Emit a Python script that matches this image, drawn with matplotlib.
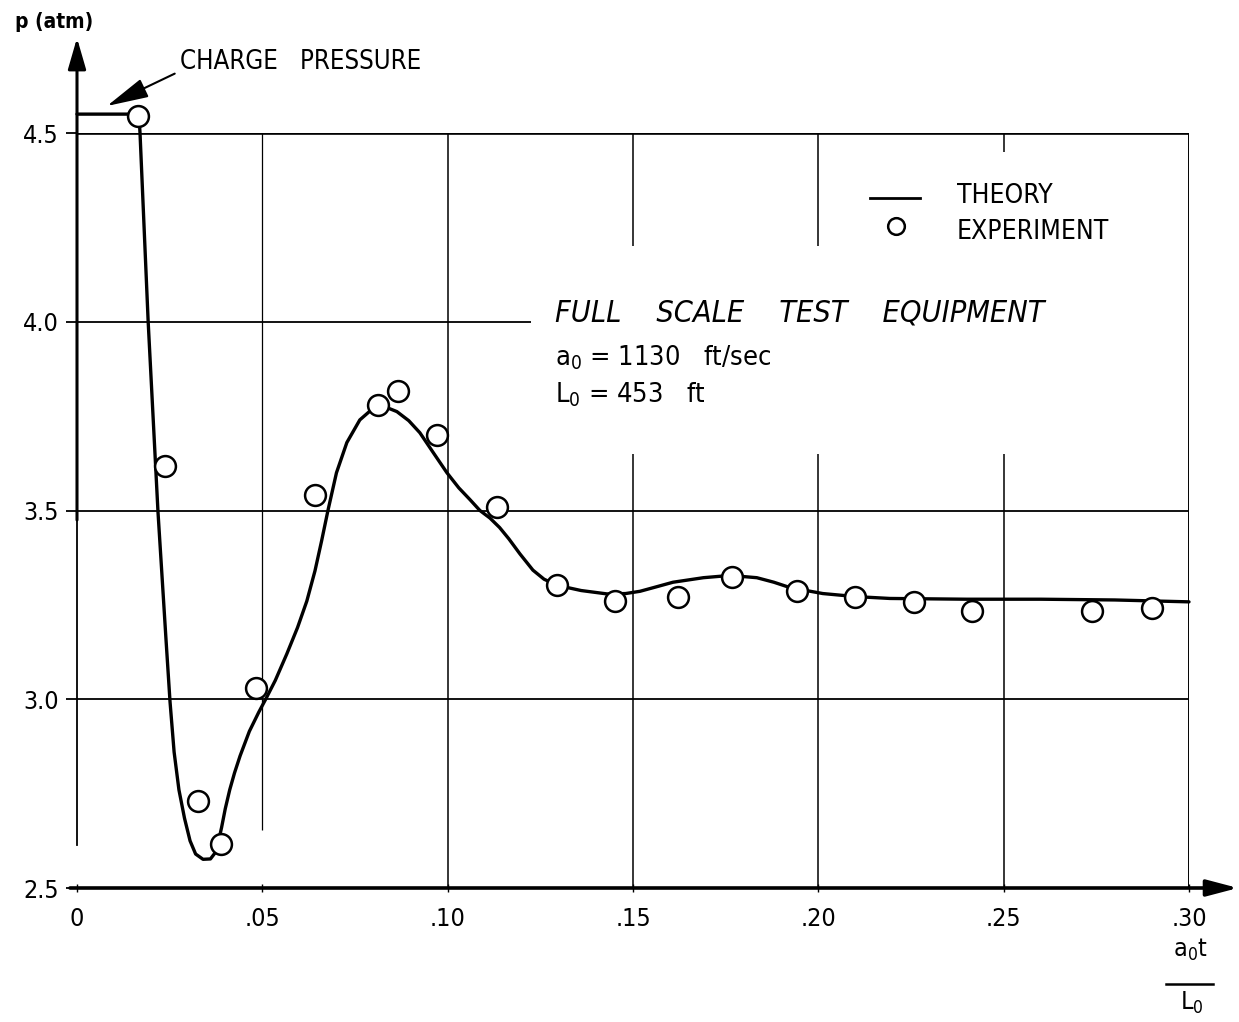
import matplotlib
matplotlib.use("Agg")
import matplotlib.pyplot as plt

# ---------------- data ----------------
theory_t = [0.0, 0.0167, 0.0170, 0.0192, 0.02185, 0.0240, 0.0251, 0.0262, 0.0275, 0.0290,
            0.0305, 0.0320, 0.0340, 0.0360, 0.0374, 0.0382, 0.0390, 0.0400, 0.0412, 0.0425,
            0.0440, 0.0465, 0.0490, 0.0509, 0.0535, 0.0566, 0.0595, 0.0620, 0.0642, 0.0660,
            0.0677, 0.0700, 0.0728, 0.0763, 0.0798, 0.0830, 0.0863, 0.0895, 0.0925, 0.0960,
            0.0998, 0.1030, 0.1060, 0.1087, 0.1114, 0.1140, 0.1165, 0.1195, 0.1230, 0.1260,
            0.1295, 0.1360, 0.1430, 0.1480, 0.1519, 0.1560, 0.1608, 0.1690, 0.1762, 0.1834,
            0.1880, 0.1923, 0.2012, 0.2100, 0.2193, 0.2400, 0.2600, 0.2800, 0.3000]
theory_p = [4.55, 4.55, 4.50, 4.00, 3.496, 3.16, 2.993, 2.86, 2.76, 2.685,
            2.625, 2.590, 2.576, 2.577, 2.595, 2.625, 2.66, 2.71, 2.76, 2.805,
            2.85, 2.915, 2.965, 3.00, 3.05, 3.12, 3.19, 3.26, 3.34, 3.42,
            3.50, 3.60, 3.68, 3.74, 3.77, 3.775, 3.762, 3.738, 3.706, 3.655,
            3.60, 3.56, 3.529, 3.50, 3.48, 3.455, 3.425, 3.385, 3.342, 3.318,
            3.302, 3.288, 3.279, 3.280, 3.286, 3.297, 3.31, 3.322, 3.328, 3.322,
            3.310, 3.296, 3.28, 3.272, 3.267, 3.265, 3.265, 3.263, 3.258]

exp_t = [0.0165, 0.0237, 0.0326, 0.0388, 0.0483, 0.0642, 0.0812, 0.0866, 0.0971, 0.1133,
         0.1295, 0.1451, 0.1621, 0.1767, 0.1942, 0.2099, 0.2258, 0.2414, 0.2738, 0.2900]
exp_p = [4.545, 3.619, 2.730, 2.616, 3.029, 3.540, 3.780, 3.817, 3.701, 3.508,
         3.302, 3.259, 3.270, 3.325, 3.288, 3.272, 3.257, 3.233, 3.235, 3.241]

x_ticks = [0.0, 0.05, 0.10, 0.15, 0.20, 0.25, 0.30]
x_tick_labels = ["0", ".05", ".10", ".15", ".20", ".25", ".30"]
y_ticks = [2.5, 3.0, 3.5, 4.0, 4.5]
y_tick_labels = ["2.5", "3.0", "3.5", "4.0", "4.5"]

# ---------------- figure ----------------
plt.rcParams["font.family"] = ["DejaVu Sans"]
plt.rcParams["font.stretch"] = "condensed"

W, H = 1239, 1022
fig = plt.figure(figsize=(W / 100, H / 100), dpi=100)
X0, X1, YB, YT = 77, 1189, 888, 133
ax = fig.add_axes([X0 / W, (H - YB) / H, (X1 - X0) / W, (YB - YT) / H])
ax.set_xlim(0, 0.30)
ax.set_ylim(2.5, 4.5)
for s in ax.spines.values():
    s.set_visible(False)


def fx(px):
    return (px - X0) / (X1 - X0)


def fy(py):
    return (YB - py) / (YB - YT)


TA = ax.transAxes
K = "black"

# grid lines (horizontal)
ax.hlines([3.0, 3.5], 0, 0.30, color=K, lw=1.3, zorder=1)
ax.hlines([4.0], 0, 0.1224, color=K, lw=1.3, zorder=1)
ax.hlines([4.5], 0, 0.30, color=K, lw=1.9, zorder=1)
# vertical lines
ax.vlines([0.30], 2.5, 4.5, color=K, lw=1.4, zorder=1)
ax.vlines([0.10], 2.5, 4.5, color=K, lw=1.1, zorder=1)
ax.vlines([0.05], 2.654, 4.5, color=K, lw=0.9, zorder=1)
ax.vlines([0.15, 0.20], 2.5, 3.65, color=K, lw=1.1, zorder=1)
ax.vlines([0.15, 0.20], 4.2, 4.5, color=K, lw=1.1, zorder=1)
ax.vlines([0.25], 2.5, 3.65, color=K, lw=1.1, zorder=1)
ax.vlines([0.25], 4.45, 4.5, color=K, lw=1.1, zorder=1)

# y axis arrow
ax.annotate("", xy=(0, fy(38)), xytext=(0, fy(520)), xycoords=TA, textcoords=TA,
            arrowprops=dict(arrowstyle="-|>,head_length=1.9,head_width=0.55",
                            color=K, lw=2.2, shrinkA=0, shrinkB=0), annotation_clip=False)
ax.plot([0, 0], [fy(520), fy(845)], transform=TA, color=K, lw=1.3, clip_on=False)
# x axis arrow
ax.annotate("", xy=(fx(1238), 0), xytext=(fx(70), 0), xycoords=TA, textcoords=TA,
            arrowprops=dict(arrowstyle="-|>,head_length=1.9,head_width=0.5",
                            color=K, lw=2.6, shrinkA=0, shrinkB=0), annotation_clip=False)

# theory + experiment
ax.plot(theory_t, theory_p, color=K, lw=2.4, zorder=3, clip_on=False,
        solid_capstyle="round", solid_joinstyle="round")
ax.plot(exp_t, exp_p, linestyle="none", marker="o", ms=15, mfc="white", mec=K,
        mew=1.8, zorder=4, clip_on=False)

# ticks
ax.set_xticks(x_ticks)
ax.set_xticklabels(x_tick_labels)
ax.set_yticks(y_ticks)
ax.set_yticklabels(y_tick_labels)
ax.tick_params(axis="y", direction="out", length=8, width=1.3, pad=5, labelsize=18)
ax.tick_params(axis="x", direction="inout", length=6, width=1.0, pad=11, labelsize=18)

# axis titles
fig.text(15 / W, 1 - 22 / H, "p (atm)", ha="left", va="center", fontsize=15,
         fontweight="bold")
ax.text(fx(1190), fy(950), r"$\mathregular{a_0 t}$", transform=TA, ha="center",
        va="center", fontsize=18)
ax.plot([fx(1166), fx(1213)], [fy(984), fy(984)], transform=TA, color=K, lw=1.8,
        clip_on=False)
ax.text(fx(1192), fy(1003), r"$\mathregular{L_0}$", transform=TA, ha="center",
        va="center", fontsize=18)

# charge pressure annotation
ax.annotate("CHARGE   PRESSURE", xy=(fx(107), fy(106)), xytext=(fx(180), fy(62)),
            xycoords=TA, textcoords=TA, ha="left", va="center", fontsize=18.5,
            arrowprops=dict(arrowstyle="-|>,head_length=1.4,head_width=0.33",
                            color=K, lw=1.5, shrinkA=2, shrinkB=0,
                            relpos=(0.0, 0.15)),
            annotation_clip=False)

# legend
ax.plot([fx(870), fx(920)], [fy(198), fy(198)], transform=TA, color=K, lw=2.0,
        clip_on=False)
ax.plot([fx(896)], [fy(226)], transform=TA, marker="o", ms=12, mfc="white",
        mec=K, mew=1.8, clip_on=False)
ax.text(fx(957), fy(196), "THEORY", transform=TA, ha="left", va="center",
        fontsize=19)
ax.text(fx(957), fy(232), "EXPERIMENT", transform=TA, ha="left", va="center",
        fontsize=19)

# annotation block
ax.text(fx(555), fy(313), "FULL    SCALE    TEST    EQUIPMENT", transform=TA,
        ha="left", va="center", fontsize=22, style="italic")
ax.text(fx(555), fy(358), r"$\mathregular{a_0}$ = 1130   ft/sec", transform=TA,
        ha="left", va="center", fontsize=19.5)
ax.text(fx(555), fy(395), r"$\mathregular{L_0}$ = 453   ft", transform=TA,
        ha="left", va="center", fontsize=19.5)

fig.savefig("out.png", dpi=100, facecolor="white")
